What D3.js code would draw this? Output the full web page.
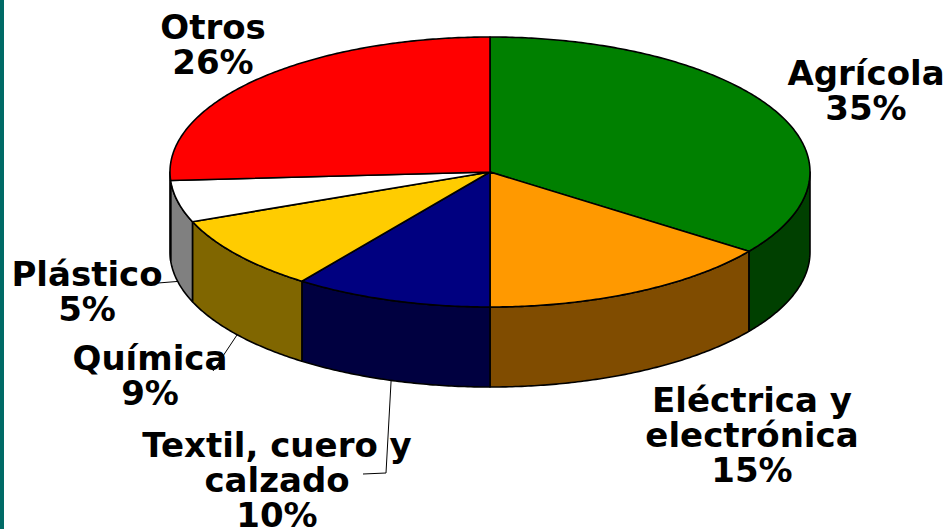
<!DOCTYPE html>
<html>
<head>
<meta charset="utf-8">
<script src="https://cdn.jsdelivr.net/npm/d3@7"></script>
<style>
  html, body { margin: 0; padding: 0; background: #ffffff; }
  svg { display: block; }
  .label { font-family: "DejaVu Sans", Verdana, sans-serif; font-weight: bold; font-size: 34px; fill: #000; }
</style>
</head>
<body>
<div id="chart"></div>
<script>
const categories = ["Agrícola", "Eléctrica y electrónica", "Textil, cuero y calzado", "Química", "Plástico", "Otros"];
const shares = [35, 15, 10, 9, 5, 26];
const topColors = ["#008000", "#ff9900", "#000080", "#ffcc00", "#ffffff", "#ff0000"];
const sideColors = ["#004000", "#804c00", "#000040", "#806600", "#808080", "#800000"];
const labelLines = [["Agrícola"], ["Eléctrica y", "electrónica"], ["Textil, cuero y", "calzado"], ["Química"], ["Plástico"], ["Otros"]];

const width = 950;
const height = 529;

// pie geometry (ellipse seen from above at an angle)
const cx = 490, cy = 172, rx = 320, ry = 135, depth = 80;

// label anchors: center x, first baseline y
const labelPos = [[866, 85], [752, 412], [277, 457], [150, 370], [87, 286], [213, 39]];
const lineHeight = 35;
// leader lines: label-side points (null = no leader)
const leaderEnds = [null, null, [[386, 473], [363, 474]], [[213, 371]], [[158, 283]], null];

const svg = d3.select("#chart")
    .append("svg")
    .attr("width", width)
    .attr("height", height);

svg.append("rect")
    .attr("width", width)
    .attr("height", height)
    .attr("fill", "#ffffff");

svg.append("rect")
    .attr("x", 0)
    .attr("y", 0)
    .attr("width", 4)
    .attr("height", height)
    .attr("fill", "#006b66");

const pie = d3.pie().sort(null).value(d => d).startAngle(0).endAngle(2 * Math.PI);
const arcs = pie(shares);

function pt(a, dy = 0) {
    return [cx + rx * Math.sin(a), cy - ry * Math.cos(a) + dy];
}

function arcPoints(a0, a1, dy = 0) {
    const n = Math.max(2, Math.ceil((a1 - a0) / 0.01));
    return d3.range(n + 1).map(i => pt(a0 + (a1 - a0) * i / n, dy));
}

const line = d3.line();

// side walls (only the front half is visible)
const sides = svg.append("g");
arcs.forEach((d, i) => {
    const a0 = Math.max(d.startAngle, Math.PI / 2);
    const a1 = Math.min(d.endAngle, 3 * Math.PI / 2);
    if (a0 >= a1) return;
    const pts = arcPoints(a0, a1).concat(arcPoints(a0, a1, depth).reverse());
    sides.append("path")
        .attr("d", line(pts) + "Z")
        .attr("fill", sideColors[i])
        .attr("stroke", "#000")
        .attr("stroke-width", 1.6)
        .attr("stroke-linejoin", "round");
});

// top faces
const tops = svg.append("g");
arcs.forEach((d, i) => {
    const pts = [[cx, cy]].concat(arcPoints(d.startAngle, d.endAngle));
    tops.append("path")
        .attr("d", line(pts) + "Z")
        .attr("fill", topColors[i])
        .attr("stroke", "#000")
        .attr("stroke-width", 1.6)
        .attr("stroke-linejoin", "round");
});

// leader lines from the bottom rim at each slice's middle angle
const leaders = svg.append("g");
arcs.forEach((d, i) => {
    if (!leaderEnds[i]) return;
    const mid = (d.startAngle + d.endAngle) / 2;
    const pts = [pt(mid, depth)].concat(leaderEnds[i]);
    leaders.append("path")
        .attr("d", line(pts))
        .attr("fill", "none")
        .attr("stroke", "#000")
        .attr("stroke-width", 1);
});

// labels
const labels = svg.append("g");
arcs.forEach((d, i) => {
    const lines = labelLines[i].concat([d3.format(".0f")(shares[i]) + "%"]);
    const t = labels.append("text")
        .attr("class", "label")
        .attr("text-anchor", "middle")
        .attr("x", labelPos[i][0])
        .attr("y", labelPos[i][1]);
    lines.forEach((s, k) => {
        t.append("tspan")
            .attr("x", labelPos[i][0])
            .attr("y", labelPos[i][1] + k * lineHeight)
            .text(s);
    });
});
</script>
</body>
</html>
